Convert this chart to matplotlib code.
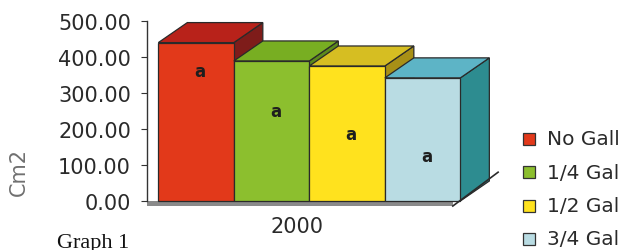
import matplotlib
matplotlib.use("Agg")
import matplotlib.pyplot as plt
from matplotlib.patches import Polygon, Rectangle

categories = ['No Gall', '1/4 Gal', '1/2 Gal', '3/4 Gal']
values = [440, 389, 375, 342]
letters = ['a', 'a', 'a', 'a']
letter_y = [361, 250, 186, 125]
year = '2000'
yticks = [0, 100, 200, 300, 400, 500]

front = ['#E2391A', '#8CBF2E', '#FFE21E', '#B9DCE3']
top = ['#B8221A', '#78AE22', '#D6BE22', '#5DB4C6']
side = ['#7E1C1A', '#5C8A1C', '#A89016', '#2D8C90']
edge = '#2a2a2a'

W, H = 624, 251
fig = plt.figure(figsize=(W / 100, H / 100), dpi=100)
ax = fig.add_axes([147 / W, 49 / H, 353 / W, 180 / H])
ax.set_xlim(-0.65, 4.025)
ax.set_ylim(0, 500)

dx, dy = 0.384, 55.6  # fake depth

# floor
ax.add_patch(Polygon([(-0.65, -14), (3.4, -14), (3.4, 0), (-0.65, 0)],
                     closed=True, facecolor='#8a8a8a', edgecolor='none',
                     clip_on=False, zorder=1))
ax.plot([3.4, 4.0], [-14, 80], color=edge, lw=1.2, clip_on=False, zorder=6)

for i, v in enumerate(values):
    x0, x1 = i - 0.5, i + 0.5
    s = Polygon([(x1, 0), (x1 + dx, dy), (x1 + dx, v + dy), (x1, v)],
                closed=True, facecolor=side[i], edgecolor=edge, lw=0.9,
                clip_on=False, zorder=2 + i)
    t = Polygon([(x0, v), (x0 + dx, v + dy), (x1 + dx, v + dy), (x1, v)],
                closed=True, facecolor=top[i], edgecolor=edge, lw=0.9,
                clip_on=False, zorder=2 + i)
    f = Rectangle((x0, 0), 1, v, facecolor=front[i], edgecolor=edge, lw=0.9,
                  clip_on=False, zorder=2 + i)
    ax.add_patch(s)
    ax.add_patch(t)
    ax.add_patch(f)
    ax.text(i + 0.05, letter_y[i], letters[i], ha='center', va='center',
            fontsize=12, fontweight='bold', color='#1e1e1e', zorder=10)

for sp in ['top', 'right', 'bottom']:
    ax.spines[sp].set_visible(False)
ax.spines['left'].set_color('#333333')
ax.spines['left'].set_linewidth(1.0)
ax.set_yticks(yticks)
ax.set_yticklabels(['%.2f' % t for t in yticks])
ax.tick_params(axis='y', length=4, color='#333333', labelsize=15,
               labelcolor='#2a2a2a', pad=7.5)
ax.set_xticks([])

fig.text(297 / W, 1 - 227 / H, year, ha='center', va='center',
         fontsize=15, color='#2a2a2a')
fig.text(19 / W, 1 - 172 / H, 'Cm2', rotation=90, ha='center', va='center',
         fontsize=15, color='#707070')
fig.text(57 / W, 1 - 234 / H, 'Graph 1', ha='left', va='top',
         fontsize=16, family='Liberation Serif', color='#111111')

for i, c in enumerate(categories):
    yc = 140 + 33.3 * i
    fig.add_artist(Rectangle((523 / W, 1 - (yc + 6) / H), 12 / W, 12 / H,
                             transform=fig.transFigure, facecolor=front[i],
                             edgecolor='#333333', lw=0.9))
    fig.text(547 / W, 1 - yc / H, c, ha='left', va='center',
             fontsize=14.5, color='#2a2a2a')

fig.savefig('out.png', dpi=100)
